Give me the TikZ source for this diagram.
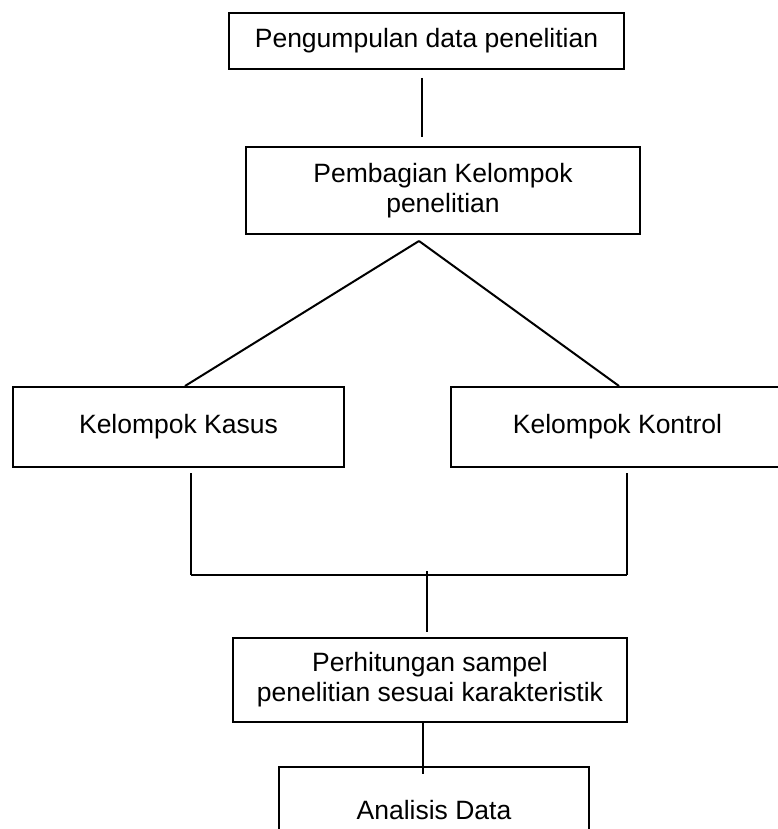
\documentclass[tikz,border=0pt]{standalone}
\usepackage{fontspec}
\setmainfont{Liberation Sans}
\begin{document}
\begin{tikzpicture}[x=1pt,y=-1pt,
  box/.style={draw=black, line width=1.4pt, inner sep=0pt, align=center,
    font=\fontsize{26.5}{30}\selectfont},
  link/.style={draw=black, line width=2pt}]
\useasboundingbox (0,0) rectangle (778,829);
\clip (0,0) rectangle (778,829);
% boxes
\node[box, minimum width=395pt, minimum height=56pt] (b1) at (426.5,41) {Pengumpulan data penelitian};
\node[box, minimum width=394pt, minimum height=87pt] (b2) at (443,190.5) {Pembagian Kelompok\\penelitian};
\node[box, minimum width=331pt, minimum height=80pt] (b3) at (178.5,427) {Kelompok Kasus};
\node[box, minimum width=333pt, minimum height=80pt] (b4) at (617.5,427) {Kelompok Kontrol};
\node[box, minimum width=394pt, minimum height=84pt] (b5) at (430,680) {Perhitungan sampel\\penelitian sesuai karakteristik};
\node[box, minimum width=310pt, minimum height=86pt] (b6) at (434,810) {Analisis Data};
% connector end points
\coordinate (c1a) at (422,78);
\coordinate (c1b) at (422,137);
\coordinate (apex) at (419,241);
\coordinate (kl) at (185,386);
\coordinate (kr) at (619,386);
\coordinate (vl1) at (191,473);
\coordinate (vl2) at (191,575);
\coordinate (vr1) at (627,473);
\coordinate (vr2) at (627,575);
\coordinate (m1) at (427,571);
\coordinate (m2) at (427,632);
\coordinate (p1) at (423,722);
\coordinate (p2) at (423,774);
% connectors
\draw[link] (c1a) -- (c1b);
\draw[link] (apex) -- (kl);
\draw[link] (apex) -- (kr);
\draw[link] (vl1) -- (vl2);
\draw[link] (vr1) -- (vr2);
\draw[link] (vl2) -- (vr2);
\draw[link] (m1) -- (m2);
\draw[link] (p1) -- (p2);
\end{tikzpicture}
\end{document}
